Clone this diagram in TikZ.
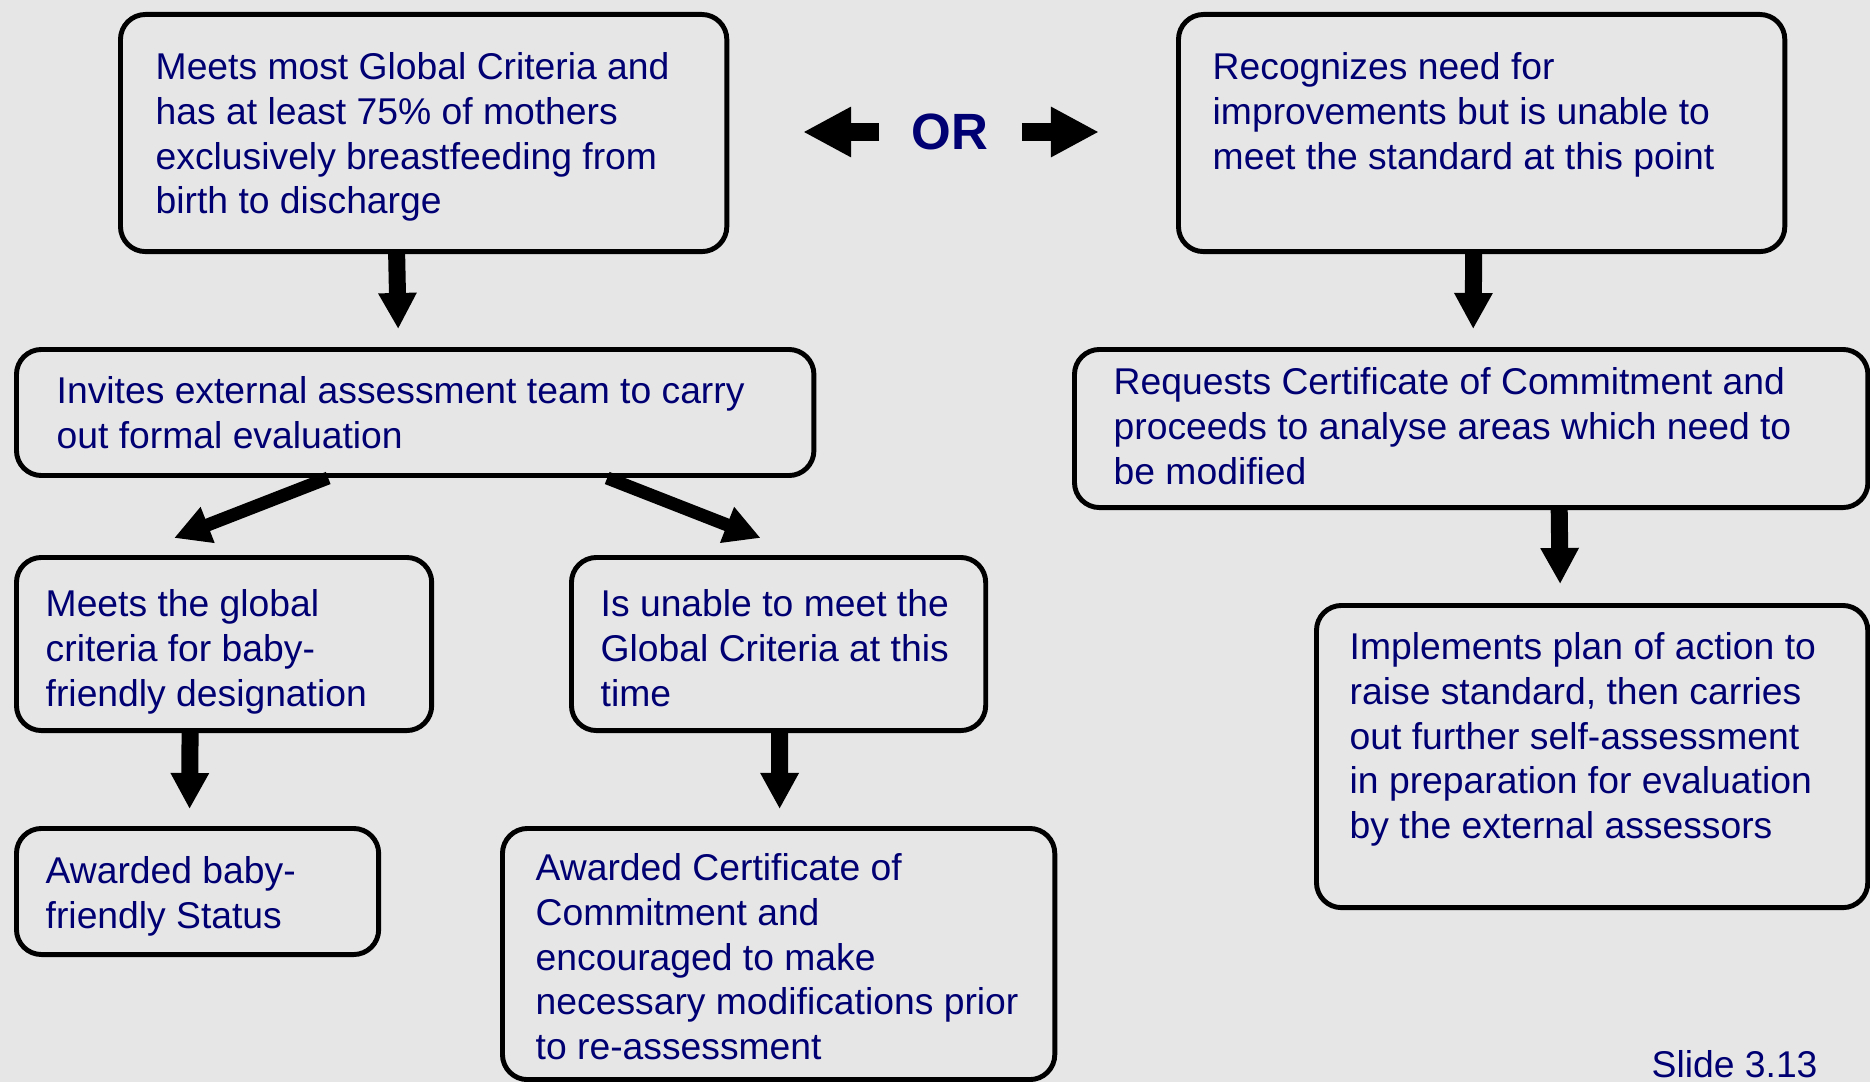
\documentclass[tikz,border=0pt]{standalone}
\usepackage{fontspec}
\setmainfont{Liberation Sans}
\usepackage{tikz}
\usetikzlibrary{arrows.meta,calc}

\definecolor{paper}{RGB}{230,230,230}
\definecolor{navy}{RGB}{0,0,115}

\tikzset{
    stage/.style={draw=black, line width=1.4pt, rounded corners=0.25cm, anchor=north west, inner sep=0pt},
    words/.style={anchor=north west, align=left, inner sep=0pt, text=navy, font=\fontsize{10.6}{12.7}\selectfont},
    flow/.style={line width=0.17cm, -{Triangle[width=0.36cm,length=0.36cm]}},
    slant/.style={line width=0.13cm, -{Triangle[width=0.36cm,length=0.36cm]}},
    orflow/.style={line width=0.17cm, -{Triangle[width=0.47cm,length=0.48cm]}},
}

\begin{document}
\begin{tikzpicture}[x=0.01cm, y=-0.01cm]
    \fill[paper] (0,0) rectangle (1870,1082);
    \useasboundingbox (0,0) rectangle (1870,1082);

    \node[stage, minimum width=6.06cm, minimum height=2.37cm] (crit) at (118,12) {};
    \node[stage, minimum width=6.06cm, minimum height=2.37cm] (recog) at (1176,12) {};
    \node[stage, minimum width=7.97cm, minimum height=1.26cm] (invite) at (14,347) {};
    \node[stage, minimum width=7.93cm, minimum height=1.58cm] (request) at (1072,347) {};
    \node[stage, minimum width=4.15cm, minimum height=1.73cm] (meets) at (14,555) {};
    \node[stage, minimum width=4.14cm, minimum height=1.73cm] (unable) at (569,555) {};
    \node[stage, minimum width=3.62cm, minimum height=1.26cm] (bf) at (14,826) {};
    \node[stage, minimum width=5.52cm, minimum height=2.51cm] (cert) at (500,826) {};
    \node[stage, minimum width=5.51cm, minimum height=3.02cm] (impl) at (1314,603) {};

    \node[words] (crit-t) at (155,52) {Meets most Global Criteria and\\has at least 75\% of mothers\\exclusively breastfeeding from\\birth to discharge};
    \node[words] (recog-t) at (1212,52) {Recognizes need for\\improvements but is unable to\\meet the standard at this point};
    \node[words] (invite-t) at (56,376) {Invites external assessment team to carry\\out formal evaluation};
    \node[words] (request-t) at (1113,367) {Requests Certificate of Commitment and\\proceeds to analyse areas which need to\\be modified};
    \node[words] (meets-t) at (45,589) {Meets the global\\criteria for baby-\\friendly designation};
    \node[words] (unable-t) at (600,589) {Is unable to meet the\\Global Criteria at this\\time};
    \node[words] (bf-t) at (45,856) {Awarded baby-\\friendly Status};
    \node[words] (cert-t) at (535,853) {Awarded Certificate of\\Commitment and\\encouraged to make\\necessary modifications prior\\to re-assessment};
    \node[words] (impl-t) at (1349,632) {Implements plan of action to\\raise standard, then carries\\out further self-assessment\\in preparation for evaluation\\by the external assessors};

    \node[text=navy, inner sep=0pt, font=\fontsize{14.5}{17}\bfseries\selectfont] (or) at (950,132) {OR};
    \node[words, anchor=base west] (slide) at (1651,1077) {Slide 3.13};

    % or arrows
    \draw[orflow] ($(or.west)+(-32,0)$) -- ($(or.west)+(-108,0)$);
    \draw[orflow] ($(or.east)+(33,0)$) -- ($(or.east)+(110,0)$);

    \draw[flow] ($(crit.south)+(-27,0)$) -- ($(invite.north)+(-17,-18)$);
    \draw[flow] ($(recog.south)+(-8,0)$) -- ($(request.north)+(2,-18)$);
    \draw[flow] ($(request.south)+(88,0)$) -- ($(impl.north)+(-32,-19)$);
    \draw[slant] ($(invite.south)+(-87,0)$) -- ($(meets.north)+(-50,-17)$);
    \draw[slant] ($(invite.south)+(192,0)$) -- ($(unable.north)+(-18,-17)$);
    \draw[flow] ($(meets.south)+(-34,0)$) -- ($(bf.north)+(-8,-17)$);
    \draw[flow] ($(unable.south)+(1,0)$) -- ($(cert.north)+(1,-17)$);
\end{tikzpicture}
\end{document}
